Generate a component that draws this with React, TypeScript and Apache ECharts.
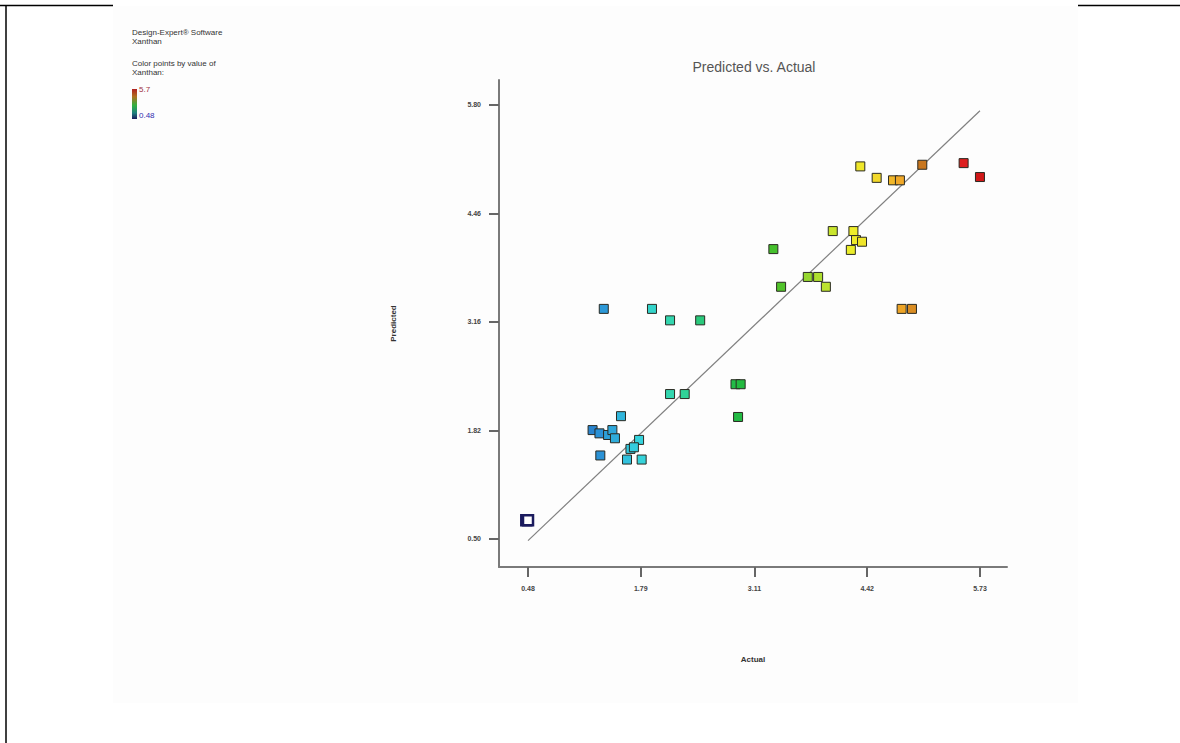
import React, { useEffect, useRef } from "react";
import * as echarts from "echarts";

// Actual vs predicted values (Xanthan)
const actualValues = [
  1.36, 1.92, 2.13, 2.48, 1.23, 1.31, 1.41, 1.46, 1.49, 1.56, 1.32, 1.77, 1.67, 1.71, 1.63, 1.8,
  2.13, 2.3, 2.89, 2.95, 2.92, 3.33, 3.42, 3.73, 3.85, 3.94, 4.02, 4.26, 4.29, 4.36, 4.23,
  4.34, 4.53, 4.72, 4.8, 5.06, 5.54, 5.73, 4.82, 4.94,
];
const predictedValues = [
  3.31, 3.31, 3.17, 3.17, 1.83, 1.79, 1.77, 1.83, 1.73, 2.0, 1.52, 1.71, 1.6, 1.62, 1.47, 1.47,
  2.27, 2.27, 2.39, 2.39, 1.99, 4.04, 3.58, 3.7, 3.7, 3.58, 4.26, 4.26, 4.15, 4.13, 4.03,
  5.05, 4.91, 4.88, 4.88, 5.07, 5.09, 4.92, 3.31, 3.31,
];
// lowest design points (drawn hollow)
const lowActual = [0.46, 0.48];
const lowPredicted = [0.73, 0.73];

const xTicks = [0.48, 1.79, 3.11, 4.42, 5.73];
const xTickLabels = ["0.48", "1.79", "3.11", "4.42", "5.73"];
const yTicks = [0.5, 1.825, 3.15, 4.475, 5.8];
const yTickLabels = ["0.50", "1.82", "3.16", "4.46", "5.80"];
const fitLine = [0.48, 5.73];

const colorStops: [number, string][] = [
  [0.48, "#1b1b5e"],
  [0.9, "#1f4fa8"],
  [1.3, "#2b8fd6"],
  [1.75, "#35d3e0"],
  [2.2, "#33d6a6"],
  [2.6, "#26c46a"],
  [3.0, "#22b83a"],
  [3.4, "#4cc22a"],
  [3.8, "#a6dc30"],
  [4.25, "#eeee2a"],
  [4.55, "#f2d62a"],
  [4.8, "#f0a828"],
  [5.06, "#c8761e"],
  [5.5, "#e02020"],
  [5.73, "#d01818"],
];

function hexToRgb(h: string) {
  const n = parseInt(h.slice(1), 16);
  return [(n >> 16) & 255, (n >> 8) & 255, n & 255];
}
function colorFor(v: number) {
  if (v <= colorStops[0][0]) return colorStops[0][1];
  for (let i = 1; i < colorStops.length; i++) {
    const [v1, c1] = colorStops[i];
    const [v0, c0] = colorStops[i - 1];
    if (v <= v1) {
      const t = (v - v0) / (v1 - v0);
      const a = hexToRgb(c0);
      const b = hexToRgb(c1);
      const r = a.map((x, k) => Math.round(x + (b[k] - x) * t));
      return `rgb(${r[0]},${r[1]},${r[2]})`;
    }
  }
  return colorStops[colorStops.length - 1][1];
}

function labelFor(ticks: number[], labels: string[]) {
  return (v: number) => {
    let best = 0;
    for (let i = 1; i < ticks.length; i++) {
      if (Math.abs(ticks[i] - v) < Math.abs(ticks[best] - v)) best = i;
    }
    return labels[best];
  };
}

const FONT = "Liberation Sans, Arial, sans-serif";

export default function App() {
  const ref = useRef<HTMLDivElement>(null);
  useEffect(() => {
    if (!ref.current) return;
    const chart = echarts.init(ref.current, undefined, { renderer: "svg" });
    const smallText = { fontFamily: FONT, fontSize: 8, fill: "#333" };
    chart.setOption({
      animation: false,
      backgroundColor: "#ffffff",
      grid: { left: 499, right: 173, top: 80, bottom: 176 },
      xAxis: {
        type: "value",
        min: 0.143,
        max: 6.044,
        splitLine: { show: false },
        axisLine: { show: true, onZero: false, lineStyle: { color: "#7a7a7a", width: 2 } },
        axisTick: { show: true, customValues: xTicks, length: 10, lineStyle: { color: "#666", width: 2 } },
        axisLabel: {
          customValues: xTicks,
          formatter: labelFor(xTicks, xTickLabels),
          margin: 18,
          fontSize: 7,
          fontWeight: "bold",
          color: "#444",
          fontFamily: FONT,
        },
        name: "Actual",
        nameLocation: "middle",
        nameGap: 88,
        nameTextStyle: { fontSize: 8, color: "#333", fontFamily: FONT, fontWeight: "bold" },
      },
      yAxis: {
        type: "value",
        min: 0.158,
        max: 6.105,
        splitLine: { show: false },
        axisLine: { show: true, onZero: false, lineStyle: { color: "#7a7a7a", width: 2 } },
        axisTick: { show: true, customValues: yTicks, length: 10, lineStyle: { color: "#666", width: 2 } },
        axisLabel: {
          customValues: yTicks,
          formatter: labelFor(yTicks, yTickLabels),
          margin: 18,
          fontSize: 7,
          fontWeight: "bold",
          color: "#444",
          fontFamily: FONT,
        },
        name: "Predicted",
        nameLocation: "middle",
        nameGap: 102,
        nameRotate: 90,
        nameTextStyle: { fontSize: 8, color: "#333", fontFamily: FONT, fontWeight: "bold" },
      },
      graphic: [
        { type: "rect", z: -10, shape: { x: 113, y: 6, width: 965, height: 697 }, style: { fill: "#fdfdfd" } },
        { type: "line", shape: { x1: 0, y1: 5.5, x2: 113, y2: 5.5 }, style: { stroke: "#000", lineWidth: 1.5 } },
        { type: "line", shape: { x1: 1078, y1: 5.5, x2: 1180, y2: 5.5 }, style: { stroke: "#000", lineWidth: 1.5 } },
        { type: "line", shape: { x1: 6, y1: 5, x2: 6, y2: 743 }, style: { stroke: "#000", lineWidth: 1.5 } },
        {
          type: "text",
          x: 754,
          y: 60,
          style: { text: "Predicted vs. Actual", fontFamily: FONT, fontSize: 14, fill: "#555", textAlign: "center" },
        },
        { type: "text", x: 132, y: 28, style: { ...smallText, text: "Design-Expert® Software" } },
        { type: "text", x: 132, y: 37, style: { ...smallText, text: "Xanthan" } },
        { type: "text", x: 132, y: 59, style: { ...smallText, text: "Color points by value of" } },
        { type: "text", x: 132, y: 68, style: { ...smallText, text: "Xanthan:" } },
        {
          type: "rect",
          shape: { x: 132, y: 89, width: 5, height: 30 },
          style: {
            fill: new echarts.graphic.LinearGradient(0, 0, 0, 1, [
              { offset: 0, color: "#b02020" },
              { offset: 0.25, color: "#b07020" },
              { offset: 0.55, color: "#30b040" },
              { offset: 0.8, color: "#208080" },
              { offset: 1, color: "#1b1b5e" },
            ]),
          },
        },
        { type: "text", x: 139, y: 85, style: { ...smallText, text: "5.7", fill: "#a03040" } },
        { type: "text", x: 139, y: 111, style: { ...smallText, text: "0.48", fill: "#3030b0" } },
      ],
      series: [
        {
          type: "line",
          data: fitLine.map((v) => [v, v]),
          symbol: "none",
          lineStyle: { color: "#808080", width: 1.2 },
          z: 1,
        },
        {
          type: "scatter",
          data: actualValues.map((a, i) => [a, predictedValues[i]]),
          symbol: "rect",
          symbolSize: 9,
          itemStyle: {
            color: (p: any) => colorFor(p.value[0]),
            borderColor: "#2a2a22",
            borderWidth: 1,
            opacity: 1,
          },
          z: 3,
        },
        {
          type: "scatter",
          data: lowActual.map((a, i) => [a, lowPredicted[i]]),
          symbol: "rect",
          symbolSize: 10,
          itemStyle: { color: "#ffffff", borderColor: "#1b1b5e", borderWidth: 2.5, opacity: 1 },
          z: 4,
        },
      ],
    });
    return () => chart.dispose();
  }, []);
  return (
    <div
      ref={ref}
      style={{ position: "absolute", left: 0, top: 0, width: 1180, height: 743 }}
    />
  );
}
